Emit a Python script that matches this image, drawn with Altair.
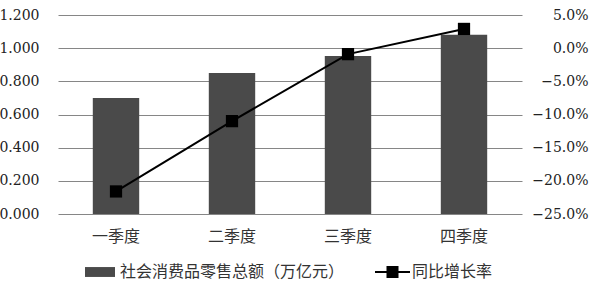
import altair as alt
import pandas as pd

quarters = ["一季度", "二季度", "三季度", "四季度"]
sales = [0.700, 0.850, 0.953, 1.081]
growth = [-0.216, -0.110, -0.009, 0.029]
bar_label = "社会消费品零售总额（万亿元）"
line_label = "同比增长率"
left_ticks = [0.0, 0.2, 0.4, 0.6, 0.8, 1.0, 1.2]
right_ticks = [-0.25, -0.20, -0.15, -0.10, -0.05, 0.0, 0.05]

df = pd.DataFrame({
    "q": quarters,
    "sales": sales,
    "growth": growth,
    "s1": [bar_label] * 4,
    "s2": [line_label] * 4,
})

NUM_FONT = "DejaVu Serif"
NUM_SIZE = 14
CJK_FONT = "Noto Sans CJK SC"

x = alt.X("q:N", sort=quarters, title=None,
          scale=alt.Scale(paddingInner=0.6, paddingOuter=0.3),
          axis=alt.Axis(labelAngle=0, domain=False, ticks=False, labelFont=CJK_FONT,
                        labelFontSize=16, labelColor="#333333", labelPadding=14))

base = alt.Chart(df)

bars = base.mark_bar(color="#4a4a4a").encode(
    x=x,
    y=alt.Y("sales:Q", title=None,
            scale=alt.Scale(domain=[0, 1.2], nice=False),
            axis=alt.Axis(values=left_ticks, format=".3f", domain=False, ticks=False,
                          grid=True, gridColor="#868686", gridWidth=1,
                          labelFont=NUM_FONT, labelFontSize=NUM_SIZE, labelColor="#222222",
                          labelPadding=19)),
    color=alt.Color("s1:N", scale=alt.Scale(range=["#4a4a4a"]),
                    legend=alt.Legend(title=None, orient="none", legendX=27, legendY=242,
                                      symbolType="M-1,-0.33H1V0.33H-1Z", symbolSize=900,
                                      symbolStrokeWidth=0, labelOffset=5, padding=0,
                                      labelLimit=500,
                                      labelFont=CJK_FONT, labelFontSize=16,
                                      labelColor="#333333")),
)

right_axis = alt.Axis(values=right_ticks, format=".1%", domain=False, ticks=False,
                      grid=False, orient="right", labelFont=NUM_FONT, labelFontSize=NUM_SIZE,
                      labelColor="#222222", labelAlign="right", labelPadding=66)
yr = alt.Y("growth:Q", title=None, scale=alt.Scale(domain=[-0.25, 0.05], nice=False),
           axis=right_axis)

line = base.mark_line(color="black", strokeWidth=2).encode(x=x, y=yr)
points = base.mark_point(shape="square", filled=True, size=150, opacity=1).encode(
    x=x, y=yr,
    fill=alt.Fill("s2:N", scale=alt.Scale(range=["black"]),
                  legend=alt.Legend(title=None, orient="none", legendX=317, legendY=239.5,
                                    symbolType="M-1,-0.057H1V0.057H-1Z M-0.343,-0.343H0.343V0.343H-0.343Z",
                                    symbolSize=1225, symbolStrokeWidth=0, labelOffset=2,
                                    padding=0, labelLimit=500, labelFont=CJK_FONT,
                                    labelFontSize=16, labelColor="#333333")),
)

chart = alt.layer(bars, alt.layer(line, points)).resolve_scale(
    y="independent", color="independent", fill="independent"
).properties(
    width=464, height=199,
    padding={"left": 58, "top": 15, "right": 77, "bottom": 74},
    autosize="none",
    background="white",
).configure_view(stroke=None)

chart.save("out.html", embed_options={"renderer": "svg", "actions": False})
